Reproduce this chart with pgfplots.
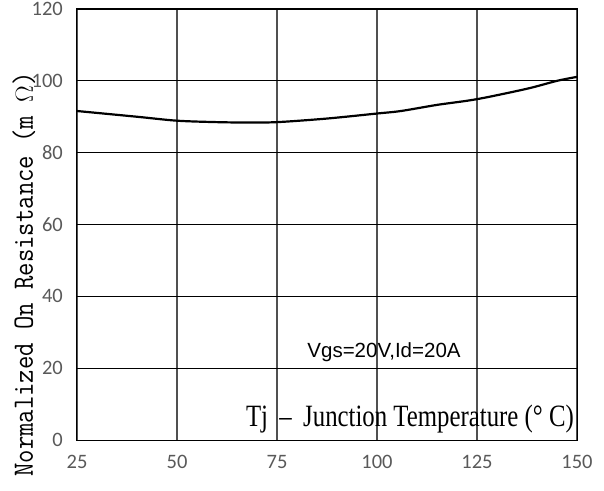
\documentclass[border=0pt]{standalone}
\usepackage{fontspec}
\setmainfont{Carlito}
\newfontfamily\ylabfont[FakeStretch=0.88]{Latin Modern Mono}
\newfontfamily\xlabfont[FakeStretch=0.8]{Liberation Serif}
\newfontfamily\annfont{Liberation Sans}
\usepackage{pgfplots}
\pgfplotsset{compat=1.18}
\definecolor{ticklab}{RGB}{89,89,89}
\definecolor{gridv}{RGB}{80,80,80}
\begin{document}
\begin{tikzpicture}
\begin{axis}[
  at={(0pt,0pt)}, anchor=south west,
  width=500pt, height=431pt, scale only axis,
  xmin=25, xmax=150, ymin=0, ymax=120,
  xtick={25,50,75,100,125,150},
  ytick={0,20,40,60,80,100,120},
  major tick length=0pt,
  grid=major,
  major x grid style={gridv, line width=1.2pt},
  major y grid style={black, line width=0.9pt},
  axis line style={black, line width=1pt},
  /pgf/number format/assume math mode=true,
  tick label style={font=\fontsize{20.5}{24}\selectfont, text=ticklab, inner sep=0pt},
  yticklabel style={anchor=east, xshift=-14pt},
  xticklabel style={anchor=north, yshift=-15pt},
  clip=false,
]
\addplot[black, line width=2.2pt, smooth] coordinates {
  (25,91.6) (40,90.0) (50,88.9) (60,88.5) (67,88.4) (75,88.5) (87.5,89.5)
  (100,90.9) (106,91.6) (115,93.3) (125,94.9) (137.5,97.8) (145,100.0) (150,101.1)
};
\node[anchor=base, inner sep=0pt, font=\annfont\fontsize{20.5}{24}\selectfont] at (rel axis cs:0.614,0.192) {Vgs=20V,Id=20A};
\node[anchor=base east, inner sep=0pt, xshift=-3pt, font=\xlabfont\fontsize{31}{36}\selectfont] at (rel axis cs:1,0.031) {Tj \,–\, Junction Temperature (° C)};
\node[rotate=90, anchor=base, inner sep=0pt, font=\ylabfont\fontsize{29.5}{36}\selectfont] at (rel axis cs:-0.088,0.384) {Normalized On Resistance (m $\Omega$)};
\end{axis}
\pgfresetboundingbox
\useasboundingbox (-77pt,-50pt) rectangle (527pt,440pt);
\end{tikzpicture}
\end{document}
